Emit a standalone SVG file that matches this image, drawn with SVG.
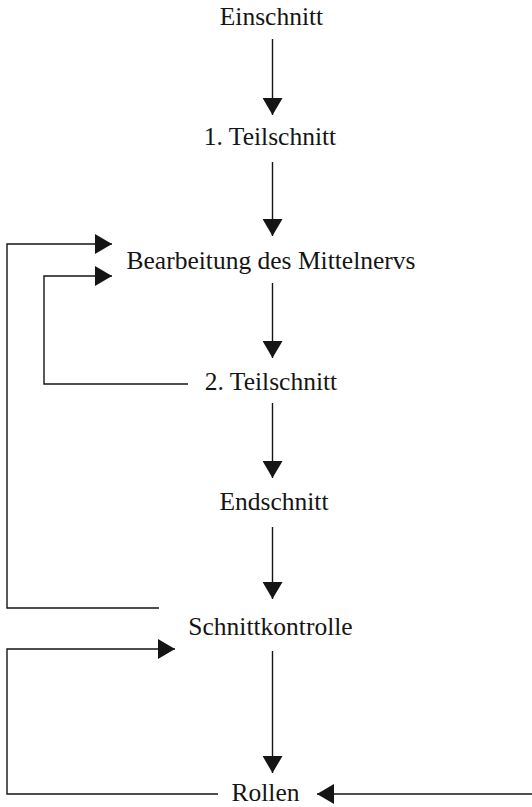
<svg xmlns="http://www.w3.org/2000/svg" width="532" height="807" viewBox="0 0 532 807">
<style>
.t{font-family:"Liberation Serif","Times New Roman",serif;font-size:25.5px;fill:#151515;text-anchor:middle}
.c{fill:none;stroke:#151515;stroke-width:1.4}
</style>
<defs>
<marker id="ah" viewBox="0 0 17 20" refX="17" refY="10" markerWidth="17" markerHeight="20" markerUnits="userSpaceOnUse" orient="auto">
<path d="M0,0 L17,10 L0,20 z" fill="#151515"/>
</marker>
</defs>
<rect width="532" height="807" fill="#fff"/>
<g id="connectors">
<path class="c" d="M272.5,39 V115" marker-end="url(#ah)"/>
<path class="c" d="M272.5,162 V236" marker-end="url(#ah)"/>
<path class="c" d="M272.5,283 V358" marker-end="url(#ah)"/>
<path class="c" d="M272.5,403 V478" marker-end="url(#ah)"/>
<path class="c" d="M272.5,527 V599" marker-end="url(#ah)"/>
<path class="c" d="M272.5,651 V773" marker-end="url(#ah)"/>
<path class="c" d="M159,608 H7 V244 H112" marker-end="url(#ah)"/>
<path class="c" d="M188,384 H44 V276 H112" marker-end="url(#ah)"/>
<path class="c" d="M218,794 H7 V649 H175" marker-end="url(#ah)"/>
<path class="c" d="M532,794 H317" marker-end="url(#ah)"/>
</g>
<g id="einschnitt"><text class="t" x="271.5" y="25">Einschnitt</text></g>
<g id="teilschnitt1"><text class="t" x="270" y="145">1. Teilschnitt</text></g>
<g id="bearbeitung"><text class="t" x="271" y="269">Bearbeitung des Mittelnervs</text></g>
<g id="teilschnitt2"><text class="t" x="271" y="390">2. Teilschnitt</text></g>
<g id="endschnitt"><text class="t" x="274" y="510">Endschnitt</text></g>
<g id="schnittkontrolle"><text class="t" x="270.5" y="635">Schnittkontrolle</text></g>
<g id="rollen"><text class="t" x="265.5" y="801">Rollen</text></g>
</svg>
